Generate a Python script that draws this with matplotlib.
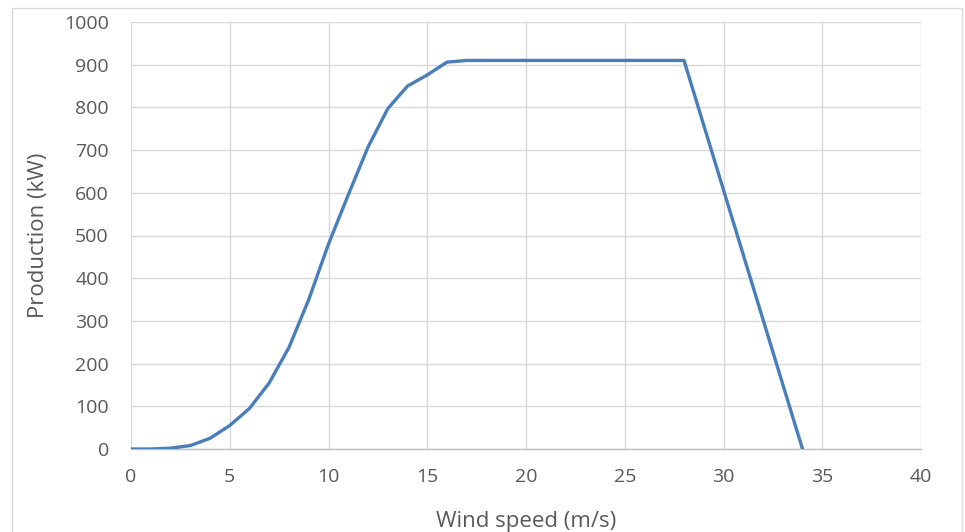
import matplotlib
matplotlib.use("Agg")
import matplotlib.pyplot as plt
from matplotlib.patches import Rectangle

wind_speed = [0, 1, 2, 3, 4, 5, 6, 7, 8, 9, 10, 11, 12, 13, 14, 15, 16, 17, 18, 19, 20,
              21, 22, 23, 24, 25, 26, 27, 28, 34]
production = [0, 0, 2, 8, 25, 55, 95, 155, 238, 350, 480, 595, 707, 797, 850, 876, 906, 910,
              910, 910, 910, 910, 910, 910, 910, 910, 910, 910, 910, 0]
x_ticks = [0, 5, 10, 15, 20, 25, 30, 35, 40]
y_ticks = [0, 100, 200, 300, 400, 500, 600, 700, 800, 900, 1000]

plt.rcParams['font.family'] = ['Open Sans', 'DejaVu Sans']

W, H = 965, 532
fig = plt.figure(figsize=(W / 100, H / 100), dpi=100)
ax = fig.add_axes([131 / W, 1 - 449 / H, (921 - 131) / W, (449 - 22) / H])

ax.plot(wind_speed, production, color='#4a7ebb', linewidth=2.4, solid_joinstyle='round', zorder=3)

ax.set_xlim(0, 40)
ax.set_ylim(0, 1000)
ax.set_xticks(x_ticks)
ax.set_yticks(y_ticks)
ax.grid(True, color='#d9d9d9', linewidth=1.0)
ax.set_axisbelow(True)
for s in ['top', 'right', 'left']:
    ax.spines[s].set_visible(False)
ax.spines['bottom'].set_color('#bfbfbf')
ax.spines['bottom'].set_linewidth(1.0)
ax.tick_params(axis='both', length=0, labelsize=14, labelcolor='#595959')
ax.tick_params(axis='y', pad=16)
ax.tick_params(axis='x', pad=14)

ax.set_xlabel('Wind speed (m/s)', fontsize=16, color='#595959', labelpad=18)
ax.set_ylabel('Production (kW)', fontsize=16, color='#595959', labelpad=11)

fig.patches.append(Rectangle((12 / W, -0.1), (962 - 12) / W, 1.1 - 8 / H,
                             transform=fig.transFigure, fill=False,
                             edgecolor='#d9d9d9', linewidth=1.0))

fig.savefig('out.png', dpi=100)
